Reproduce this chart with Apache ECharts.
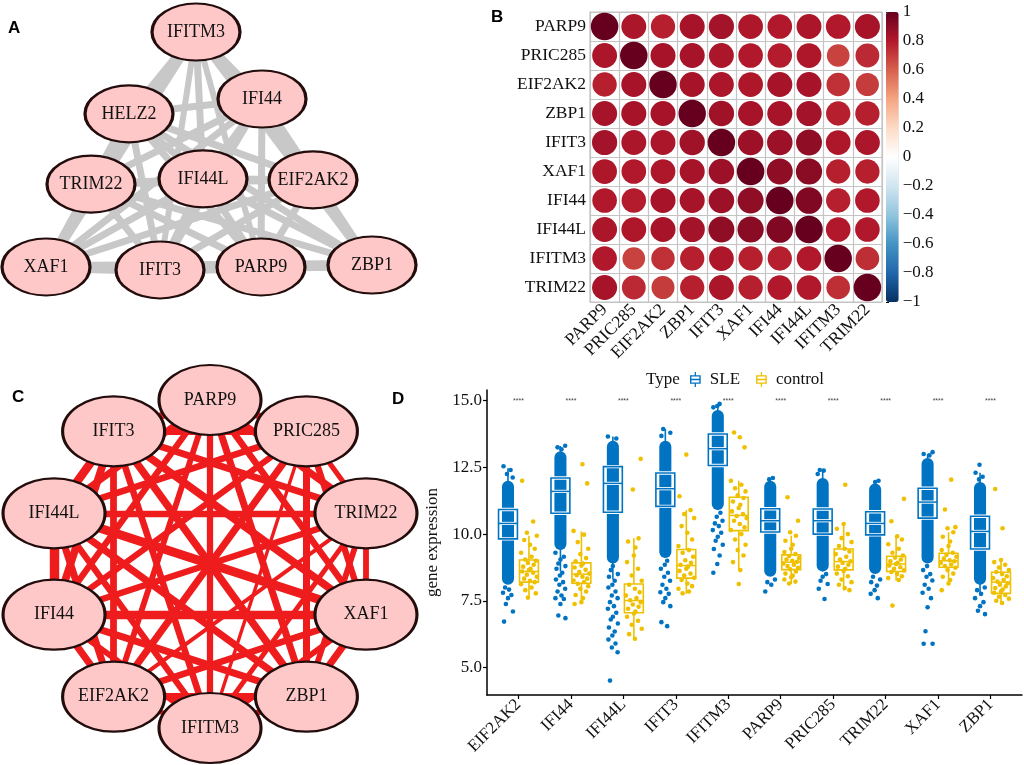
<!DOCTYPE html>
<html><head><meta charset="utf-8">
<script src="https://cdn.jsdelivr.net/npm/echarts@6/dist/echarts.min.js"></script>
<style>html,body{margin:0;padding:0;background:#fff}#c{width:1024px;height:765px}</style>
</head><body><div id="c"></div>
<script>
// ===== Panel A: PPI network (layout units 0-100) =====
const netANodes = ['IFITM3','HELZ2','IFI44','TRIM22','IFI44L','EIF2AK2','XAF1','IFIT3','PARP9','ZBP1'];
const netALayoutX = [49, 32.25, 65.5, 22.75, 50.75, 78.25, 11.5, 40, 65.25, 93];
const netALayoutY = [9.7, 34.5, 30, 55.8, 54.2, 54.5, 80.9, 81.8, 80.9, 80.3];
const netAEdges = [
  ['IFITM3','HELZ2',0.7],['IFITM3','IFI44',0.7],['IFITM3','TRIM22',0.7],['IFITM3','IFI44L',0.7],['IFITM3','EIF2AK2',0.7],
  ['IFITM3','XAF1',1.0],['IFITM3','IFIT3',0.6],['IFITM3','PARP9',0.6],['IFITM3','ZBP1',1.0],
  ['HELZ2','IFI44',0.7],['HELZ2','TRIM22',0.7],['HELZ2','IFI44L',0.7],['HELZ2','EIF2AK2',0.7],['HELZ2','XAF1',0.7],
  ['HELZ2','IFIT3',0.7],['HELZ2','PARP9',0.7],['HELZ2','ZBP1',0.7],
  ['IFI44','TRIM22',0.7],['IFI44','IFI44L',0.7],['IFI44','EIF2AK2',0.7],['IFI44','XAF1',0.7],['IFI44','IFIT3',0.7],
  ['IFI44','PARP9',0.7],['IFI44','ZBP1',0.7],
  ['TRIM22','IFI44L',0.7],['TRIM22','EIF2AK2',0.7],['TRIM22','XAF1',0.7],['TRIM22','IFIT3',0.7],['TRIM22','PARP9',0.7],['TRIM22','ZBP1',0.7],
  ['IFI44L','EIF2AK2',0.7],['IFI44L','XAF1',0.7],['IFI44L','IFIT3',0.7],['IFI44L','PARP9',0.7],['IFI44L','ZBP1',0.7],
  ['EIF2AK2','XAF1',0.7],['EIF2AK2','IFIT3',0.7],['EIF2AK2','PARP9',0.7],['EIF2AK2','ZBP1',0.7],
  ['XAF1','IFIT3',1.0],['XAF1','PARP9',0.7],['XAF1','ZBP1',1.0],
  ['IFIT3','PARP9',1.0],['IFIT3','ZBP1',0.7],['PARP9','ZBP1',1.0]
];

// ===== Panel B: correlation matrix =====
const genesB = ['PARP9','PRIC285','EIF2AK2','ZBP1','IFIT3','XAF1','IFI44','IFI44L','IFITM3','TRIM22'];
const corr = [
  [1.00, 0.82, 0.78, 0.83, 0.84, 0.81, 0.80, 0.82, 0.80, 0.83],
  [0.82, 1.00, 0.83, 0.83, 0.82, 0.80, 0.79, 0.81, 0.68, 0.75],
  [0.78, 0.83, 1.00, 0.83, 0.82, 0.81, 0.83, 0.83, 0.73, 0.70],
  [0.83, 0.83, 0.83, 1.00, 0.85, 0.83, 0.83, 0.84, 0.78, 0.78],
  [0.84, 0.82, 0.82, 0.85, 1.00, 0.86, 0.86, 0.89, 0.81, 0.82],
  [0.81, 0.80, 0.81, 0.83, 0.86, 1.00, 0.89, 0.91, 0.78, 0.78],
  [0.80, 0.79, 0.83, 0.83, 0.86, 0.89, 1.00, 0.93, 0.78, 0.80],
  [0.82, 0.81, 0.83, 0.84, 0.89, 0.91, 0.93, 1.00, 0.80, 0.80],
  [0.80, 0.68, 0.73, 0.78, 0.81, 0.78, 0.78, 0.80, 1.00, 0.74],
  [0.83, 0.75, 0.70, 0.78, 0.82, 0.78, 0.80, 0.80, 0.74, 1.00]
];
const colorbarColors = ['#053061','#2166AC','#4393C3','#92C5DE','#D1E5F0','#FFFFFF','#FDDBC7','#F4A582','#D6604D','#B2182B','#67001F'];

// ===== Panel C: co-expression network (order around the circle) =====
const netCNodes = ['XAF1','ZBP1','IFITM3','EIF2AK2','IFI44','IFI44L','IFIT3','PARP9','PRIC285','TRIM22'];

// ===== Panel D: expression =====
const genesD = ['EIF2AK2','IFI44','IFI44L','IFIT3','IFITM3','PARP9','PRIC285','TRIM22','XAF1','ZBP1'];
const yTicksD = [5, 7.5, 10, 12.5, 15];
const sigLabels = ['****','****','****','****','****','****','****','****','****','****'];
// [whisker low, Q1, median, Q3, whisker high]
const sleBox = [
  [8.2, 9.82, 10.4, 10.92, 12.47],
  [8.6, 10.78, 11.6, 12.1, 13.3],
  [8.3, 10.82, 11.9, 12.53, 13.66],
  [9.2, 11.04, 11.7, 12.29, 13.94],
  [10.9, 12.57, 13.2, 13.75, 14.88],
  [8.8, 10.08, 10.5, 10.95, 12.1],
  [8.6, 10.0, 10.5, 10.94, 12.38],
  [8.7, 9.97, 10.4, 10.84, 12.0],
  [9.2, 10.6, 11.2, 11.72, 13.0],
  [7.7, 9.44, 10.1, 10.67, 12.3]
];
// dense part of the SLE point cloud [low, high]
const sleDense = [
  [8.1, 12.0], [9.4, 13.1], [8.9, 13.5], [9.1, 13.5], [10.9, 14.65],
  [8.4, 12.0], [8.6, 12.1], [8.5, 11.9], [8.9, 12.85], [8.1, 11.95]
];
// individually visible SLE samples outside the dense cloud
const sleSparse = [
  [12.54, 12.4, 12.25, 12.12, 8.0, 7.92, 7.8, 7.72, 7.6, 7.38, 7.1, 6.72],
  [13.31, 13.25, 13.18, 9.3, 9.15, 9.05, 8.9, 8.8, 8.7, 8.55, 8.45, 8.3, 8.2, 8.1, 7.95, 7.85, 7.7, 7.6, 7.57, 7.38, 6.95, 6.85],
  [13.66, 13.58, 8.8, 8.65, 8.5, 8.4, 8.25, 8.1, 8.0, 7.85, 7.7, 7.6, 7.45, 7.3, 7.2, 7.05, 6.9, 6.8, 6.65, 6.5, 6.35, 6.2, 6.05, 5.9, 5.75, 5.57, 4.51],
  [13.94, 13.8, 13.68, 9.0, 8.85, 8.7, 8.55, 8.4, 8.25, 8.1, 7.95, 7.82, 7.76, 7.6, 7.45, 7.3, 6.7, 6.55],
  [14.88, 14.8, 14.75, 10.8, 10.65, 10.5, 10.4, 10.3, 10.15, 10.05, 9.9, 9.75, 9.6, 9.44, 9.2, 8.88, 8.55],
  [12.1, 12.05, 8.3, 8.2, 8.1, 7.85],
  [12.4, 12.38, 12.25, 8.5, 8.4, 8.25, 8.13, 7.95, 7.57],
  [12.0, 11.95, 8.4, 8.3, 8.2, 8.07, 7.9, 7.76, 7.6],
  [13.07, 13.0, 12.95, 8.8, 8.65, 8.5, 8.4, 8.26, 8.1, 7.95, 7.8, 7.6, 7.26, 6.36, 5.89, 5.89],
  [12.6, 12.3, 12.15, 12.05, 8.0, 7.9, 7.76, 7.6, 7.45, 7.3, 7.13, 7.0]
];
const ctrlBox = [
  [7.57, 8.2, 8.6, 9.03, 9.94],
  [7.4, 8.16, 8.5, 8.92, 10.1],
  [6.07, 7.05, 7.51, 8.13, 9.84],
  [7.76, 8.35, 8.82, 9.42, 10.9],
  [8.63, 10.13, 10.7, 11.38, 12.0],
  [8.13, 8.67, 8.95, 9.22, 9.94],
  [7.88, 8.66, 8.97, 9.44, 10.38],
  [8.26, 8.6, 8.88, 9.17, 9.92],
  [8.1, 8.76, 9.0, 9.28, 10.07],
  [7.4, 7.78, 8.2, 8.57, 9.03]
];
const ctrlPoints = [
  [12.0, 10.47, 10.05, 9.94, 9.78, 9.6, 9.45, 9.3, 9.15, 9.05, 9.0, 8.92, 8.85, 8.78, 8.7, 8.65, 8.6, 8.55, 8.48, 8.4, 8.33, 8.25, 8.2, 8.12, 8.0, 7.9, 7.78, 7.62],
  [12.62, 11.9, 10.12, 9.98, 9.7, 9.45, 9.25, 9.1, 8.98, 8.9, 8.82, 8.75, 8.66, 8.58, 8.52, 8.46, 8.4, 8.33, 8.26, 8.2, 8.14, 8.05, 7.95, 7.85, 7.72, 7.6, 7.45, 7.38],
  [12.82, 11.67, 9.84, 9.72, 9.5, 9.2, 8.95, 8.7, 8.45, 8.25, 8.1, 7.95, 7.82, 7.7, 7.6, 7.52, 7.45, 7.36, 7.28, 7.2, 7.1, 7.02, 6.9, 6.75, 6.6, 6.45, 6.25, 6.08],
  [12.98, 11.42, 10.9, 10.75, 10.6, 10.3, 10.05, 9.8, 9.55, 9.4, 9.3, 9.15, 9.02, 8.92, 8.85, 8.78, 8.7, 8.62, 8.52, 8.45, 8.36, 8.28, 8.15, 8.05, 7.95, 7.85, 7.78],
  [13.81, 13.63, 13.25, 12.0, 11.85, 11.72, 11.6, 11.45, 11.35, 11.22, 11.1, 10.98, 10.85, 10.75, 10.68, 10.6, 10.5, 10.38, 10.25, 10.15, 10.0, 9.8, 9.6, 9.4, 9.2, 8.95, 8.65, 8.13],
  [11.38, 10.5, 10.07, 9.94, 9.75, 9.6, 9.45, 9.33, 9.25, 9.18, 9.1, 9.05, 9.0, 8.96, 8.9, 8.85, 8.8, 8.74, 8.68, 8.6, 8.52, 8.45, 8.38, 8.3, 8.22, 8.15],
  [11.85, 10.38, 10.2, 10.0, 9.85, 9.7, 9.55, 9.45, 9.35, 9.25, 9.15, 9.05, 8.98, 8.92, 8.85, 8.78, 8.7, 8.62, 8.52, 8.42, 8.3, 8.2, 8.1, 7.98, 7.9],
  [11.32, 10.48, 9.92, 9.8, 9.62, 9.45, 9.3, 9.2, 9.12, 9.05, 8.98, 8.92, 8.88, 8.82, 8.76, 8.7, 8.64, 8.58, 8.5, 8.42, 8.35, 8.28, 7.32],
  [12.04, 10.92, 10.26, 10.22, 10.07, 9.9, 9.72, 9.55, 9.4, 9.3, 9.22, 9.15, 9.08, 9.02, 8.98, 8.92, 8.86, 8.8, 8.74, 8.65, 8.52, 8.4, 8.28, 8.15, 7.9],
  [11.69, 10.22, 9.03, 8.95, 8.85, 8.75, 8.65, 8.58, 8.5, 8.42, 8.35, 8.28, 8.22, 8.16, 8.1, 8.04, 7.98, 7.92, 7.85, 7.8, 7.72, 7.65, 7.58, 7.5, 7.42]
];

// ===== styling =====
const SERIF = "'Liberation Serif','Times New Roman',serif";
const SANS = "'Liberation Sans',Arial,sans-serif";
const BLUE = '#0073C2', YELLOW = '#EFC000';
const ELLIPSE = 'path://M0,30A50,30 0 1,1 100,30A50,30 0 1,1 0,30Z';
const nodeStyle = {color: '#ffc8c8', borderColor: '#230c0c', borderWidth: 2.6};
const jitterSLE = [-0.085, 0.05, -0.02, 0.09, -0.055, 0.02, -0.095, 0.065, 0.0, -0.04, 0.095, -0.075, 0.035, -0.01];
const jitterCtrl = [-0.13, 0.08, -0.04, 0.15, -0.09, 0.02, 0.11, -0.15, 0.05, -0.07, 0.13, -0.02, 0.09, -0.11, 0.03, 0.0];
const OFF_SLE = -0.2, OFF_CTRL = 0.2, BOXW = 0.36;

const chart = echarts.init(document.getElementById('c'), null, {renderer: 'canvas', width: 1024, height: 765});

// panel A graph data
const nodesA = netANodes.map((n, i) => ({name: n, value: [netALayoutX[i], netALayoutY[i]]}));
const linksA = netAEdges.map(e => ({source: e[0], target: e[1], lineStyle: {width: 10 * e[2]}}));
// panel B scatter data
const corrData = [];
genesB.forEach((gy, yi) => genesB.forEach((gx, xi) => corrData.push([xi, yi, corr[yi][xi]])));
// panel C graph data
const nodesC = netCNodes.map(n => ({name: n}));
const linksC = [];
for (let i = 0; i < genesB.length; i++) for (let j = i + 1; j < genesB.length; j++)
  linksC.push({source: genesB[i], target: genesB[j], lineStyle: {width: 1.5 + (corr[i][j] - 0.6) * 24}});
// panel D data
const sleDenseData = sleDense.map((d, i) => [i + 1, d[0], d[1]]);
const sleBoxData = sleBox.map((b, i) => [i + 1].concat(b));
const ctrlBoxData = ctrlBox.map((b, i) => [i + 1].concat(b));
const sleSparseData = [], ctrlPointData = [];
sleSparse.forEach((arr, i) => arr.forEach((v, k) => sleSparseData.push([i + 1, v, k + i * 3])));
ctrlPoints.forEach((arr, i) => arr.forEach((v, k) => ctrlPointData.push([i + 1, v, k + i * 5])));
const sigData = sigLabels.map((s, i) => [i + 1, 15]);

function pointItem(off, jit, color) {
  return function (params, api) {
    const unit = api.size([1, 0])[0];
    const p = api.coord([api.value(0), api.value(1)]);
    const k = api.value(2);
    return {type: 'circle', shape: {cx: p[0] + (off + jit[k % jit.length]) * unit, cy: p[1], r: 2.3},
      style: {fill: color}};
  };
}
function denseItem(params, api) {
  const unit = api.size([1, 0])[0];
  const x = api.value(0);
  const top = api.coord([x, api.value(2)]);
  const bot = api.coord([x, api.value(1)]);
  const w = 0.23 * unit;
  const cx = top[0] + OFF_SLE * unit;
  return {type: 'rect', shape: {x: cx - w / 2, y: top[1], width: w, height: bot[1] - top[1], r: w / 2},
    style: {fill: BLUE}};
}
function boxItem(off, color, halo) {
  return function (params, api) {
    const unit = api.size([1, 0])[0];
    const x = api.value(0);
    const cx = api.coord([x, api.value(3)])[0] + off * unit;
    const Y = i => api.coord([x, api.value(i)])[1];
    const yMin = Y(1), yQ1 = Y(2), yMed = Y(3), yQ3 = Y(4), yMax = Y(5);
    const w = BOXW * unit;
    const ch = [];
    ch.push({type: 'line', shape: {x1: cx, y1: yQ3, x2: cx, y2: yMax}, style: {stroke: color, lineWidth: 1.6}});
    ch.push({type: 'line', shape: {x1: cx, y1: yQ1, x2: cx, y2: yMin}, style: {stroke: color, lineWidth: 1.6}});
    if (halo) {
      ch.push({type: 'rect', shape: {x: cx - w / 2, y: yQ3, width: w, height: yQ1 - yQ3}, style: {fill: 'none', stroke: '#fff', lineWidth: 3.4}});
      ch.push({type: 'line', shape: {x1: cx - w / 2, y1: yMed, x2: cx + w / 2, y2: yMed}, style: {stroke: '#fff', lineWidth: 3.2}});
    }
    ch.push({type: 'rect', shape: {x: cx - w / 2, y: yQ3, width: w, height: yQ1 - yQ3}, style: {fill: 'none', stroke: color, lineWidth: 1.6}});
    ch.push({type: 'line', shape: {x1: cx - w / 2, y1: yMed, x2: cx + w / 2, y2: yMed}, style: {stroke: color, lineWidth: 1.5}});
    return {type: 'group', children: ch};
  };
}
function sigItem(params, api) {
  const p = api.coord([api.value(0), api.value(1)]);
  return {type: 'text', x: p[0], y: p[1], style: {text: sigLabels[params.dataIndex], fontSize: 7, fill: '#444',
    align: 'center', verticalAlign: 'middle', fontFamily: SANS}};
}
const boxIcon = 'path://M4.4,0h1.2v3h-1.2z M0,3h10v1.3h-10z M0,3h1.3v8h-1.3z M8.7,3h1.3v8h-1.3z M0,9.7h10v1.3h-10z M0,6.35h10v1.3h-10z M4.4,11h1.2v3h-1.2z';

const hidden = {show: false};
const option = {
  animation: false,
  backgroundColor: '#fff',
  textStyle: {fontFamily: SERIF},
  grid: [
    {left: 0, top: 0, width: 400, height: 330, show: false, outerBoundsMode: 'none'},
    {left: 590, top: 12, width: 292, height: 290, show: true, borderColor: '#c4c4c4', borderWidth: 1.2, outerBoundsMode: 'none'},
    {left: 886, top: 12, width: 12.7, height: 290, show: false, outerBoundsMode: 'none'},
    {left: 487, top: 390, width: 535, height: 305, show: false, outerBoundsMode: 'none'}
  ],
  xAxis: [
    {gridIndex: 0, type: 'value', min: 0, max: 100, show: false},
    {gridIndex: 1, type: 'category', data: genesB, axisLine: hidden, axisTick: hidden,
      axisLabel: {interval: 0, rotate: 45, margin: 5, fontSize: 17.5, color: '#111', fontFamily: SERIF},
      splitLine: {show: true, lineStyle: {color: '#c4c4c4', width: 1.2}}},
    {gridIndex: 2, type: 'value', min: 0, max: 1, show: false},
    {gridIndex: 3, type: 'value', min: 0.4, max: 10.6,
      axisLine: {show: true, lineStyle: {color: '#000', width: 1.5}},
      axisTick: {show: true, length: 4, lineStyle: {color: '#000', width: 1.2}, customValues: [1,2,3,4,5,6,7,8,9,10]},
      axisLabel: {customValues: [1,2,3,4,5,6,7,8,9,10], formatter: v => genesD[Math.round(v) - 1], rotate: 45, margin: 7,
        fontSize: 17, color: '#111', fontFamily: SERIF},
      splitLine: hidden}
  ],
  yAxis: [
    {gridIndex: 0, type: 'value', min: 0, max: 100, inverse: true, show: false},
    {gridIndex: 1, type: 'category', data: genesB, inverse: true, axisLine: hidden, axisTick: hidden,
      axisLabel: {interval: 0, margin: 4, fontSize: 17.5, color: '#111', fontFamily: SERIF},
      splitLine: {show: true, lineStyle: {color: '#c4c4c4', width: 1.2}}},
    {gridIndex: 2, type: 'value', min: -1, max: 1, interval: 0.2, position: 'right',
      axisLine: hidden, axisTick: {show: true, length: 3, lineStyle: {color: '#000'}}, splitLine: hidden,
      axisLabel: {margin: 4, fontSize: 17, color: '#111', fontFamily: SERIF,
        formatter: v => { const n = Math.round(v * 10) / 10; return n < 0 ? '\u2212' + Math.abs(n) : String(n); }}},
    {gridIndex: 3, type: 'value', min: 3.97, max: 15.4,
      name: 'gene expression', nameLocation: 'middle', nameGap: 38, nameRotate: 90,
      nameTextStyle: {fontSize: 17, color: '#111', fontFamily: SERIF},
      axisLine: {show: true, lineStyle: {color: '#000', width: 1.5}},
      axisTick: {show: true, length: 4, lineStyle: {color: '#000', width: 1.2}, customValues: yTicksD},
      axisLabel: {customValues: yTicksD, formatter: v => v.toFixed(1), margin: 5, fontSize: 17, color: '#111', fontFamily: SERIF},
      splitLine: hidden}
  ],
  visualMap: {
    type: 'continuous', seriesIndex: 1, dimension: 2, min: -1, max: 1, calculable: false,
    inRange: {color: colorbarColors}, left: 886, top: 12, itemWidth: 12.7, itemHeight: 290,
    padding: 0, text: null, orient: 'vertical'
  },
  legend: {
    data: [{name: 'SLE', icon: boxIcon}, {name: 'control', icon: boxIcon}],
    left: 690, top: 371, itemWidth: 11, itemHeight: 15, itemGap: 16, padding: 0, selectedMode: false,
    textStyle: {fontFamily: SERIF, fontSize: 17, color: '#111', padding: [0, 0, 0, 4]}
  },
  graphic: [
    {type: 'text', left: 8, top: 20, style: {text: 'A', font: 'bold 17px ' + SANS, fill: '#000'}},
    {type: 'text', left: 491, top: 9, style: {text: 'B', font: 'bold 17px ' + SANS, fill: '#000'}},
    {type: 'text', left: 12, top: 389, style: {text: 'C', font: 'bold 17px ' + SANS, fill: '#000'}},
    {type: 'text', left: 392, top: 391, style: {text: 'D', font: 'bold 17px ' + SANS, fill: '#000'}},
    {type: 'text', left: 646, top: 371, style: {text: 'Type', fontSize: 17, fontFamily: SERIF, fill: '#111'}}
  ],
  series: [
    {type: 'graph', coordinateSystem: 'cartesian2d', xAxisIndex: 0, yAxisIndex: 0, layout: 'none',
      symbol: ELLIPSE, symbolSize: [88, 57], data: nodesA, links: linksA, roam: false,
      itemStyle: nodeStyle, emphasis: {disabled: true},
      label: {show: true, position: 'inside', fontSize: 18, fontFamily: SERIF, color: '#111'},
      lineStyle: {color: '#c8c8c8', opacity: 1, curveness: 0}, z: 2},
    {type: 'scatter', xAxisIndex: 1, yAxisIndex: 1, data: corrData, symbol: 'circle',
      symbolSize: v => 27.5 * Math.sqrt(Math.abs(v[2])), itemStyle: {opacity: 1}, emphasis: {disabled: true}, z: 3},
    {type: 'graph', layout: 'circular', left: 46, top: 400, width: 328, height: 328,
      symbol: ELLIPSE, symbolSize: [102, 70], data: nodesC, links: linksC, roam: false,
      itemStyle: nodeStyle, emphasis: {disabled: true},
      label: {show: true, position: 'inside', fontSize: 18, fontFamily: SERIF, color: '#111'},
      lineStyle: {color: '#ee1c1c', opacity: 1, curveness: 0}, z: 2},
    {type: 'custom', name: 'SLE', xAxisIndex: 3, yAxisIndex: 3, data: sleDenseData, renderItem: denseItem,
      encode: {x: 0, y: [1, 2]}, itemStyle: {color: BLUE}, z: 2, silent: true},
    {type: 'custom', name: 'SLE', xAxisIndex: 3, yAxisIndex: 3, data: sleSparseData, renderItem: pointItem(OFF_SLE, jitterSLE, BLUE),
      encode: {x: 0, y: 1}, itemStyle: {color: BLUE}, z: 2, silent: true},
    {type: 'custom', name: 'control', xAxisIndex: 3, yAxisIndex: 3, data: ctrlPointData, renderItem: pointItem(OFF_CTRL, jitterCtrl, YELLOW),
      encode: {x: 0, y: 1}, itemStyle: {color: YELLOW}, z: 4, silent: true},
    {type: 'custom', name: 'SLE', xAxisIndex: 3, yAxisIndex: 3, data: sleBoxData, renderItem: boxItem(OFF_SLE, BLUE, true),
      encode: {x: 0, y: [1, 5]}, itemStyle: {color: BLUE}, z: 3, silent: true},
    {type: 'custom', name: 'control', xAxisIndex: 3, yAxisIndex: 3, data: ctrlBoxData, renderItem: boxItem(OFF_CTRL, YELLOW, false),
      encode: {x: 0, y: [1, 5]}, itemStyle: {color: YELLOW}, z: 3, silent: true},
    {type: 'custom', name: 'sig', xAxisIndex: 3, yAxisIndex: 3, data: sigData, renderItem: sigItem,
      encode: {x: 0, y: 1}, z: 5, silent: true}
  ]
};
chart.setOption(option);
</script></body></html>
